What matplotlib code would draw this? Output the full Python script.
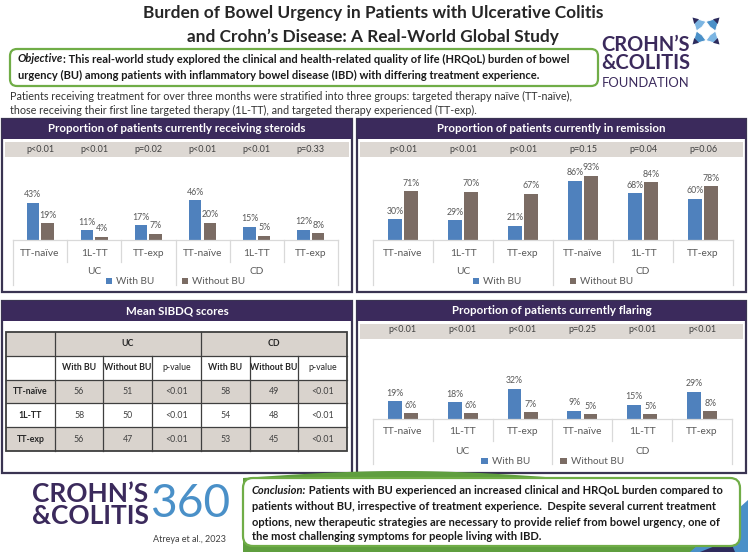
import numpy as np
import matplotlib.pyplot as plt
from matplotlib.patches import Rectangle, FancyBboxPatch, Polygon

plt.rcParams['font.family'] = ['Lato', 'DejaVu Sans']

subgroups = ['TT-naïve', '1L-TT', 'TT-exp', 'TT-naïve', '1L-TT', 'TT-exp']
diseases = ['UC', 'CD']
series = ['With BU', 'Without BU']

steroids_with = [43, 11, 17, 46, 15, 12]
steroids_without = [19, 4, 7, 20, 5, 8]
steroids_p = ['p<0.01', 'p<0.01', 'p=0.02', 'p<0.01', 'p<0.01', 'p=0.33']

remission_with = [30, 29, 21, 86, 68, 60]
remission_without = [71, 70, 67, 93, 84, 78]
remission_p = ['p<0.01', 'p<0.01', 'p<0.01', 'p=0.15', 'p=0.04', 'p=0.06']

flaring_with = [19, 18, 32, 9, 15, 29]
flaring_without = [6, 6, 7, 5, 5, 8]
flaring_p = ['p<0.01', 'p<0.01', 'p<0.01', 'p=0.25', 'p<0.01', 'p<0.01']

sibdq_rows = ['TT-naïve', '1L-TT', 'TT-exp']
sibdq_cols = ['With BU', 'Without BU', 'p-value']
sibdq_uc_with = [56, 58, 56]
sibdq_uc_without = [51, 50, 47]
sibdq_uc_p = ['<0.01', '<0.01', '<0.01']
sibdq_cd_with = [58, 54, 53]
sibdq_cd_without = [49, 48, 45]
sibdq_cd_p = ['<0.01', '<0.01', '<0.01']

title1 = 'Burden of Bowel Urgency in Patients with Ulcerative Colitis'
title2 = 'and Crohn\u2019s Disease: A Real-World Global Study'
obj1 = ': This real-world study explored the clinical and health-related quality of life (HRQoL) burden of bowel'
obj2 = 'urgency (BU) among patients with inflammatory bowel disease (IBD) with differing treatment experience.'
para1 = ('Patients receiving treatment for over three months were stratified into three groups: '
         'targeted therapy naïve (TT-naïve),')
para2 = 'those receiving their first line targeted therapy (1L-TT), and targeted therapy experienced (TT-exp).'
concl = [' Patients with BU experienced an increased clinical and HRQoL burden compared to',
         'patients without BU, irrespective of treatment experience.  Despite several current treatment',
         'options, new therapeutic strategies are necessary to provide relief from bowel urgency, one of',
         'the most challenging symptoms for people living with IBD.']

# ---- colours ----
BLUE = '#4f81bd'
BROWN = '#7b6c64'
PURPLE = '#3b2a5c'
BAND = '#ddd8d3'
GREEN = '#70ad47'
GREY = '#595959'
LINE = '#d9d9d9'

W, H = 748, 552
fig = plt.figure(figsize=(W / 100, H / 100), dpi=100)
bg = fig.add_axes([0, 0, 1, 1])
bg.set_xlim(0, W)
bg.set_ylim(H, 0)
bg.axis('off')
renderer = fig.canvas.get_renderer()


def width_of(s, size, **kw):
    t = bg.text(0, 0, s, fontsize=size, **kw)
    w = t.get_window_extent(renderer).width
    t.remove()
    return w


def size_for(s, target, **kw):
    return 10 * target / width_of(s, 10, **kw)


def mixed_line(x, y, first, rest, size, color):
    bg.text(x, y, first, fontsize=size, fontweight='bold', fontstyle='italic', color=color, va='center')
    w = width_of(first, size, fontweight='bold', fontstyle='italic')
    bg.text(x + w, y, rest, fontsize=size, fontweight='bold', color=color, va='center')


# ---- title ----
ts = size_for(title1, 458, fontweight='bold')
bg.text(373, 13, title1, ha='center', va='center', fontsize=ts, fontweight='bold', color='#262626')
bg.text(373, 37, title2, ha='center', va='center', fontsize=ts, fontweight='bold', color='#262626')

# ---- objective box ----
bg.add_patch(FancyBboxPatch((10, 49), 588, 37, boxstyle='round,pad=0,rounding_size=7',
                            ec=GREEN, fc='white', lw=1.6))
os_ = size_for('Objective' + obj1, 552, fontweight='bold')
mixed_line(18, 59, 'Objective', obj1, os_, '#1a1a1a')
bg.text(18, 75, obj2, fontsize=os_, fontweight='bold', color='#1a1a1a', va='center')

# ---- paragraph ----
ps = size_for(para1, 565)
bg.text(10, 96, para1, fontsize=ps, color='#333333', va='center')
bg.text(10, 110, para2, fontsize=ps, color='#333333', va='center')

# ---- foundation logo (top right) ----
ls = size_for('CROHN\u2019S', 88, fontweight='bold')
bg.text(601, 54, 'CROHN\u2019S\n&COLITIS', fontsize=ls, fontweight='bold', color=PURPLE, va='center',
        linespacing=0.82)
bg.text(602, 83, 'FOUNDATION', fontsize=size_for('FOUNDATION', 87), color=PURPLE, va='center')
cx, cy, r = 706, 31, 19
for k in range(4):
    a = np.deg2rad(45 + 90 * k)
    a0, a1 = a - np.pi / 4, a + np.pi / 4
    arm = [(cx + 0.5 * r * np.cos(a0), cy + 0.5 * r * np.sin(a0)),
           (cx + r * np.cos(a), cy + r * np.sin(a)),
           (cx + 0.5 * r * np.cos(a1), cy + 0.5 * r * np.sin(a1)),
           (cx + 0.3 * r * np.cos(a), cy + 0.3 * r * np.sin(a))]
    bg.add_patch(Polygon(arm, fc=['#7cb5e2', '#4a90c8'][k % 2], ec='white', lw=0.6))
    tip = [(cx + 0.72 * r * np.cos(a - 0.25), cy + 0.72 * r * np.sin(a - 0.25)),
           (cx + r * np.cos(a), cy + r * np.sin(a)),
           (cx + 0.72 * r * np.cos(a + 0.25), cy + 0.72 * r * np.sin(a + 0.25))]
    bg.add_patch(Polygon(tip, fc='#2e2b5c', ec='none'))

# ---- panels ----
hs = size_for('Proportion of patients currently receiving steroids', 258, fontweight='bold')


def panel(x0, y0, x1, y1, title, band=True):
    bg.add_patch(Rectangle((x0, y0), x1 - x0, y1 - y0, fc='white', ec='#3a3452', lw=1.6))
    bg.add_patch(Rectangle((x0, y0), x1 - x0, 20, fc=PURPLE, ec='none'))
    bg.text((x0 + x1) / 2, y0 + 10, title, ha='center', va='center', fontsize=hs,
            fontweight='bold', color='white')
    if band:
        bg.add_patch(Rectangle((x0 + 3, y0 + 23), x1 - x0 - 6, 15, fc=BAND, ec='none'))


panel(2, 119, 352, 292, 'Proportion of patients currently receiving steroids')
panel(357, 119, 746, 292, 'Proportion of patients currently in remission')
panel(2, 301, 352, 473, 'Mean SIBDQ scores', band=False)
panel(357, 301, 746, 473, 'Proportion of patients currently flaring')


def bar_chart(x0, x1, y_top, y_base, y_bot, ppu, with_vals, without_vals, pvals, p_y, legend_y, colsp):
    ax = fig.add_axes([x0 / W, 1 - y_bot / H, (x1 - x0) / W, (y_bot - y_top) / H])
    ax.set_xlim(-0.5, 5.5)
    ax.set_ylim(-(y_bot - y_base) / ppu, (y_base - y_top) / ppu)
    ax.axis('off')
    px = 1 / ppu
    x = np.arange(len(subgroups))
    b1 = ax.bar(x - 0.135, with_vals, 0.23, color=BLUE)
    b2 = ax.bar(x + 0.135, without_vals, 0.23, color=BROWN)
    for bars, vals in ((b1, with_vals), (b2, without_vals)):
        for rect, v in zip(bars, vals):
            ax.annotate(f'{v}%', (rect.get_x() + rect.get_width() / 2, v), xytext=(0, 2.5),
                        textcoords='offset points', ha='center', va='bottom', fontsize=6.3, color=GREY)
    ax.plot([-0.5, 5.5], [0, 0], color=LINE, lw=0.9, clip_on=False)
    for b in np.arange(-0.5, 6, 1):
        depth = 45 if b in (-0.5, 2.5, 5.5) else 22
        ax.plot([b, b], [0, -depth * px], color=LINE, lw=0.9, clip_on=False)
    for xi, lab in zip(x, subgroups):
        ax.text(xi, -13 * px, lab, ha='center', va='center', fontsize=7.3, color=GREY)
    for gi, g in enumerate(diseases):
        ax.text(1 + 3 * gi, -32 * px, g, ha='center', va='center', fontsize=7.3, color=GREY)
    for xi, p in zip(x, pvals):
        ax.text(xi, (y_base - p_y) * px, p, ha='center', va='center', fontsize=6.5,
                color='#404040', clip_on=False)
    ax.legend([b1, b2], series, loc='center', bbox_to_anchor=(0.5, (y_bot - legend_y) / (y_bot - y_top)),
              ncol=2, frameon=False, fontsize=7.2, handlelength=0.65, handleheight=0.65,
              handletextpad=0.4, columnspacing=colsp, labelcolor=GREY, borderpad=0, borderaxespad=0)


bar_chart(13, 338, 158, 240, 290, 0.87, steroids_with, steroids_without, steroids_p, 149.5, 282, 2.7)
bar_chart(373, 733, 158, 240, 290, 0.69, remission_with, remission_without, remission_p, 149.5, 282, 4.8)
bar_chart(373, 732, 340, 419, 471, 0.94, flaring_with, flaring_without, flaring_p, 330, 462, 3.0)

# ---- SIBDQ table ----
cols = np.linspace(6, 347, 8)
rows = np.linspace(332, 451, 6)
TBAND = '#d9d3cd'
for i in range(5):
    bg.add_patch(Rectangle((cols[0], rows[i]), cols[-1] - cols[0], rows[i + 1] - rows[i],
                           fc=TBAND if i % 2 == 0 else 'white', ec='none'))
tl = dict(color='#3f3f3f', lw=0.9)
for yv in rows[1:-1]:
    bg.plot([cols[0], cols[-1]], [yv, yv], **tl)
for j in (1, 4):
    bg.plot([cols[j], cols[j]], [rows[0], rows[-1]], **tl)
for j in (2, 3, 5, 6):
    bg.plot([cols[j], cols[j]], [rows[1], rows[-1]], **tl)
bg.add_patch(Rectangle((cols[0], rows[0]), cols[-1] - cols[0], rows[-1] - rows[0], fc='none',
                       ec='#3f3f3f', lw=1.3))
tfs = 6.3
mid = lambda a, b: (a + b) / 2
for gi, g in enumerate(diseases):
    bg.text(mid(cols[1 + 3 * gi], cols[4 + 3 * gi]), mid(rows[0], rows[1]), g, ha='center', va='center',
            fontsize=tfs, fontweight='bold', color='#262626')
    for k, c in enumerate(sibdq_cols):
        bg.text(mid(cols[1 + 3 * gi + k], cols[2 + 3 * gi + k]), mid(rows[1], rows[2]), c, ha='center',
                va='center', fontsize=tfs, fontweight='normal' if c == 'p-value' else 'bold', color='#262626')
table_vals = [sibdq_uc_with, sibdq_uc_without, sibdq_uc_p, sibdq_cd_with, sibdq_cd_without, sibdq_cd_p]
for i, lab in enumerate(sibdq_rows):
    yc = mid(rows[2 + i], rows[3 + i])
    bg.text(mid(cols[0], cols[1]), yc, lab, ha='center', va='center', fontsize=tfs, fontweight='bold',
            color='#262626')
    for j, colvals in enumerate(table_vals):
        bg.text(mid(cols[1 + j], cols[2 + j]), yc, str(colvals[i]), ha='center', va='center',
                fontsize=tfs, color='#404040')

# ---- conclusion ----
xs = np.linspace(243, 560, 40)
swoosh = [(243, 552)] + list(zip(xs, 478 - 7 * np.sin(np.pi * (xs - 243) / 317))) + [(700, 478), (700, 552)]
bg.add_patch(Polygon(swoosh, fc='#5f9e3f', ec='none'))
bg.add_patch(Polygon([(690, 552), (748, 500), (748, 552)], fc='#4a90c8', ec='none'))
bg.add_patch(Polygon([(700, 552), (730, 540), (735, 552)], fc='#2e2b5c', ec='none'))
bg.add_patch(FancyBboxPatch((243, 478), 497, 68, boxstyle='round,pad=0,rounding_size=10',
                            ec=GREEN, fc='white', lw=1.6))
cs = size_for('Conclusion:' + concl[0], 474, fontweight='bold')
ys = [491, 507, 522, 537]
mixed_line(252, ys[0], 'Conclusion:', concl[0], cs, '#1a1a1a')
for yv, line in zip(ys[1:], concl[1:]):
    bg.text(252, yv, line, fontsize=cs, fontweight='bold', color='#1a1a1a', va='center')

# ---- Crohn's & Colitis 360 logo ----
bs = size_for('CROHN\u2019S', 116, fontweight='bold')
bg.text(32, 505, 'CROHN\u2019S\n&COLITIS', fontsize=bs, fontweight='bold', color=PURPLE, va='center',
        linespacing=0.85)
bg.text(150, 504, '360', fontsize=size_for('360', 80), color='#4a90c8', va='center')
bg.text(226, 540, 'Atreya et al., 2023', fontsize=6.5, color='#404040', ha='right', va='center')

fig.savefig('out.png', dpi=100)
